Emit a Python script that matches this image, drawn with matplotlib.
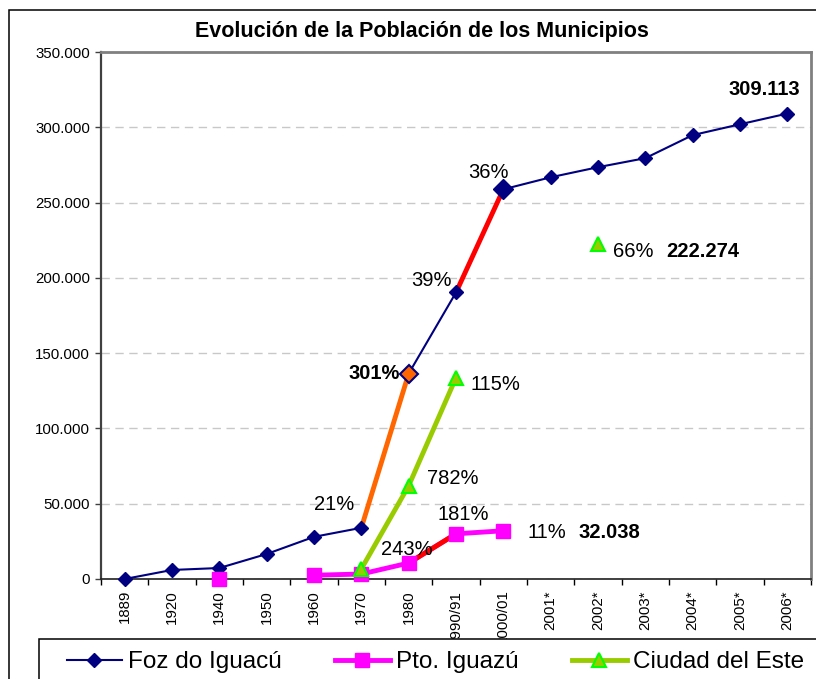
import numpy as np
import matplotlib
matplotlib.use("Agg")
import matplotlib.pyplot as plt
from matplotlib.patches import Rectangle
from matplotlib.lines import Line2D
from matplotlib.ticker import FuncFormatter

plt.rcParams['font.family'] = ['Liberation Sans', 'DejaVu Sans']

# ---------------- data ----------------
categories = ['1889', '1920', '1940', '1950', '1960', '1970', '1980', '1990/91',
              '2000/01', '2001*', '2002*', '2003*', '2004*', '2005*', '2006*']
nan = np.nan
foz = [0, 6000, 7300, 16600, 28000, 34000, 136400, 190300, 258800,
       266800, 273500, 279500, 294800, 302000, 309113]
pto = [nan, nan, 300, nan, 2500, 3300, 10600, 30000, 32038,
       nan, nan, nan, nan, nan, nan]
cde = [nan, nan, nan, nan, nan, 6700, 61900, 133700, nan,
       nan, 222274, nan, nan, nan, nan]
series_names = ['Foz do Iguacú', 'Pto. Iguazú', 'Ciudad del Este']
title = 'Evolución de la Población de los Municipios'
y_ticks = [0, 50000, 100000, 150000, 200000, 250000, 300000, 350000]

# (series, index, text, dx_px, dy_px, ha, bold)
labels = [
    ('foz', 5, '21%', -27, 23, 'center', False),
    ('foz', 6, '301%', -9, 0, 'right', True),
    ('foz', 7, '39%', -25, 12, 'center', False),
    ('foz', 8, '36%', -15, 17, 'center', False),
    ('foz', 14, '309.113', -23, 24, 'center', True),
    ('cde', 10, '66%', 15, -7, 'left', False),
    ('cde', 10, '222.274', 68, -7, 'left', True),
    ('cde', 7, '115%', 14, -7, 'left', False),
    ('cde', 6, '782%', 18, 7, 'left', False),
    ('pto', 7, '181%', 7, 19, 'center', False),
    ('pto', 6, '243%', -2, 14, 'center', False),
    ('pto', 8, '11%', 24, -2, 'left', False),
    ('pto', 8, '32.038', 75, -2, 'left', True),
]

NAVY = '#000080'
MAG = '#FF00FF'
LIME = '#99CC00'
GREEN = '#00FF00'
ORANGE = '#FF6600'
RED = '#FF0000'

W, H = 816, 679
fig = plt.figure(figsize=(W / 100, H / 100), dpi=100)
ax = fig.add_axes([101 / W, 1 - 579 / H, (811 - 101) / W, (579 - 52) / H])

x = np.arange(len(categories))
foz_a = np.array(foz, float)
pto_a = np.array(pto, float)
cde_a = np.array(cde, float)

# Foz do Iguacu
ax.plot(x, foz_a, color=NAVY, lw=1.5, zorder=3)
ax.plot(x[5:7], foz_a[5:7], color=ORANGE, lw=3.5, zorder=3.5, solid_capstyle='butt')
ax.plot(x[7:9], foz_a[7:9], color=RED, lw=3.5, zorder=3.5, solid_capstyle='butt')
ax.plot(x, foz_a, ls='none', marker='D', ms=6.8, color=NAVY, zorder=4, clip_on=False)
ax.plot(x[6], foz_a[6], ls='none', marker='D', ms=9, mfc=ORANGE, mec=NAVY, mew=1.5, zorder=4.5)
ax.plot(x[8], foz_a[8], ls='none', marker='D', ms=10.5, color=NAVY, zorder=4.5)

# Pto. Iguazu
ax.plot(x, pto_a, color=MAG, lw=3.5, zorder=5)
ax.plot(x[6:8], pto_a[6:8], color=RED, lw=3.5, zorder=5.5, solid_capstyle='butt')
ax.plot(x, pto_a, ls='none', marker='s', ms=10.5, color=MAG, zorder=6, clip_on=False)

# Ciudad del Este
ax.plot(x, cde_a, color=LIME, lw=3.5, zorder=7)
ax.plot(x, cde_a, ls='none', marker='^', ms=10.5, mfc=LIME, mec=GREEN, mew=1.5, zorder=8,
        clip_on=False)

series = {'foz': foz_a, 'pto': pto_a, 'cde': cde_a}
for s, i, txt, dx, dy, ha, bold in labels:
    ax.annotate(txt, (x[i], series[s][i]), xytext=(dx, dy), textcoords='offset pixels',
                ha=ha, va='center', fontsize=14.5,
                fontweight='bold' if bold else 'normal', color='black', zorder=10)

# axes styling
ax.set_xlim(-0.5, len(categories) - 0.5)
ax.set_ylim(0, 350000)
ax.set_yticks(y_ticks)
ax.yaxis.set_major_formatter(FuncFormatter(lambda v, p: f"{v:,.0f}".replace(',', '.')))
ax.set_xticks(x)
ax.set_xticklabels(categories, rotation=90, fontsize=10.8)
ax.set_xticks(np.arange(-0.5, len(categories), 1), minor=True)
ax.tick_params(axis='x', which='major', length=0, pad=8)
ax.tick_params(axis='x', which='minor', length=4, width=1, color='black', direction='out')
ax.tick_params(axis='y', which='major', length=4, width=1, color='#404040', pad=4, labelsize=10.8)
ax.yaxis.grid(True, linestyle=(0, (6, 4)), color='#C8C8C8', lw=1)
ax.set_axisbelow(True)
for side, col, lw in [('left', '#404040', 1.6), ('top', '#808080', 2), ('right', '#808080', 2),
                      ('bottom', '#202020', 1.2)]:
    ax.spines[side].set_color(col)
    ax.spines[side].set_linewidth(lw)

fig.text(422 / W, 1 - 32 / H, title, ha='center', va='center', fontsize=15.5, fontweight='bold')

# outer chart border
fig.add_artist(Rectangle((9 / W, -0.1), 1.1, 1.1 - 10 / H, transform=fig.transFigure,
                         fill=False, edgecolor='black', lw=1.1, zorder=0.5))
# legend box (cut off by figure edge)
fig.add_artist(Rectangle((39 / W, -0.1), 1.1, 0.1 + 1 - 639 / H, transform=fig.transFigure,
                         facecolor='white', edgecolor='black', lw=1.1, zorder=5))

handles = [
    Line2D([], [], color=NAVY, lw=1.5, marker='D', ms=6.8),
    Line2D([], [], color=MAG, lw=3.5, marker='s', ms=10.5),
    Line2D([], [], color=LIME, lw=3.5, marker='^', ms=10.5, mfc=LIME, mec=GREEN, mew=1.5),
]
leg = fig.legend(handles, series_names, loc='center left', bbox_to_anchor=(67 / W, 1 - 662 / H),
                 ncol=3, frameon=False, fontsize=17.5, borderpad=0, borderaxespad=0,
                 handlelength=2.25, handletextpad=0.25, columnspacing=2.2)
leg.set_zorder(6)

fig.savefig('out.png', dpi=100)
